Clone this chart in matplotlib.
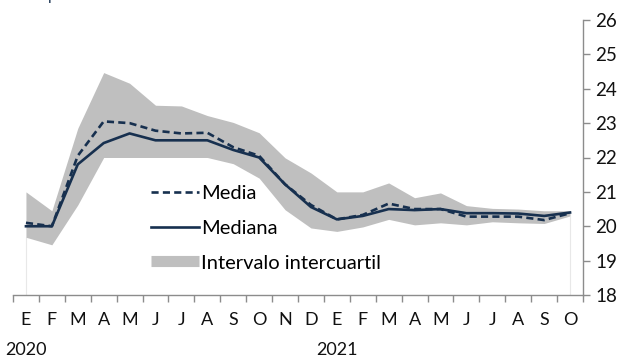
import matplotlib
matplotlib.use("Agg")
import matplotlib.pyplot as plt
from matplotlib.lines import Line2D

plt.rcParams['font.family'] = ['Lato', 'DejaVu Sans']

months = ["E", "F", "M", "A", "M", "J", "J", "A", "S", "O", "N", "D",
          "E", "F", "M", "A", "M", "J", "J", "A", "S", "O"]
years = ["2020", "2021"]
year_start_idx = [0, 12]

media = [20.1, 20.0, 22.05, 23.05, 23.0, 22.78, 22.7, 22.72, 22.3, 22.05,
         21.22, 20.62, 20.2, 20.33, 20.66, 20.5, 20.5, 20.28, 20.28, 20.28, 20.18, 20.38]
mediana = [20.0, 20.0, 21.8, 22.42, 22.7, 22.5, 22.5, 22.5, 22.22, 22.0,
           21.22, 20.56, 20.2, 20.3, 20.5, 20.47, 20.5, 20.38, 20.38, 20.37, 20.3, 20.4]
q_alto = [21.0, 20.45, 22.85, 24.47, 24.16, 23.52, 23.5, 23.22, 23.02, 22.72,
          21.99, 21.55, 21.0, 21.0, 21.26, 20.83, 20.97, 20.6, 20.52, 20.5, 20.45, 20.45]
q_bajo = [19.68, 19.46, 20.62, 22.0, 22.0, 22.0, 22.0, 22.0, 21.82, 21.4,
          20.48, 19.95, 19.85, 19.98, 20.2, 20.04, 20.1, 20.04, 20.13, 20.1, 20.08, 20.3]

navy = "#17304f"
band = "#bfbfbf"
axis_gray = "#8c8c8c"

fig = plt.figure(figsize=(6.26, 3.58), dpi=100)
ax = fig.add_axes([13 / 626, 1 - 295 / 358, (583 - 13) / 626, (295 - 20) / 358])

x = list(range(len(months)))
ax.fill_between(x, q_bajo, q_alto, color=band, lw=0, zorder=1)
ax.vlines([x[0], x[-1]], 18, [q_bajo[0], q_bajo[-1]], color="#e8e8e8", lw=0.8, zorder=0)
ax.plot(x, mediana, color=navy, lw=1.9, solid_joinstyle="round", zorder=3)
ax.plot(x, media, color=navy, lw=1.9, dashes=(2.7, 1.6), zorder=4)

ax.set_xlim(-0.5, len(months) - 0.5)
ax.set_ylim(18, 26)

for s in ["top", "left"]:
    ax.spines[s].set_visible(False)
for s in ["bottom", "right"]:
    ax.spines[s].set_color(axis_gray)
    ax.spines[s].set_linewidth(1.0)

ax.yaxis.tick_right()
ax.set_yticks(range(18, 27))
ax.tick_params(axis="y", direction="out", length=5, width=1.0, color=axis_gray,
               labelsize=13.5, pad=4, labelcolor="#111111")

edges = [i - 0.5 for i in range(len(months) + 1)]
ax.set_xticks(edges)
ax.set_xticklabels([])
ax.tick_params(axis="x", direction="out", length=5, width=1.0, color=axis_gray)
ax.set_xticks(x, minor=True)
ax.set_xticklabels(months, minor=True)
ax.tick_params(axis="x", which="minor", length=0, labelsize=13, pad=12,
               labelcolor="#111111")

for yr, idx in zip(years, year_start_idx):
    ax.annotate(yr, xy=(idx, 0), xycoords=("data", "figure fraction"),
                xytext=(0, 8), textcoords="offset pixels",
                ha="center", va="center", fontsize=13, color="#111111")

handles = [
    Line2D([], [], color=navy, lw=1.9, dashes=(2.7, 1.6)),
    Line2D([], [], color=navy, lw=1.9),
    Line2D([], [], color=band, lw=8, solid_capstyle="butt"),
]
labels = ["Media", "Mediana", "Intervalo intercuartil"]
leg = ax.legend(handles, labels, loc="upper left", bbox_to_anchor=(0.228, 0.43),
                frameon=False, fontsize=14.5, handlelength=2.4, handletextpad=0.1,
                labelspacing=0.88, borderaxespad=0)

fig.text(48 / 626, 1.0, "p", ha="left", va="baseline", fontsize=11, color=navy)

fig.savefig("out.png", dpi=100)
